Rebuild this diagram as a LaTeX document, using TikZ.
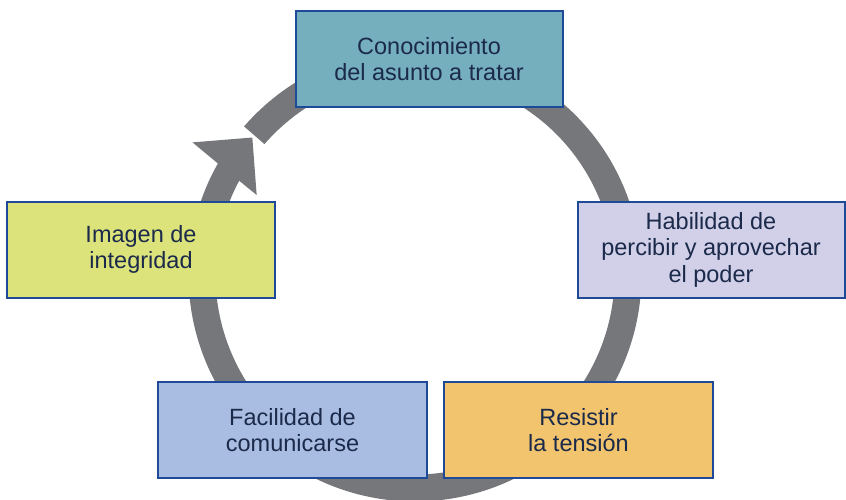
\documentclass[tikz,border=0pt]{standalone}
\usepackage{fontspec}
\setmainfont{Liberation Sans}
\definecolor{boxblue}{HTML}{1F4A98}
\definecolor{txt}{HTML}{1B2A4A}
\definecolor{ringgray}{HTML}{76777B}
\definecolor{cteal}{HTML}{75AEBC}
\definecolor{clav}{HTML}{D1D0E8}
\definecolor{cgold}{HTML}{F1C46D}
\definecolor{cblue}{HTML}{A8BDE1}
\definecolor{cyel}{HTML}{DDE37B}
\begin{document}
\begin{tikzpicture}[x=1pt,y=1pt,
  box/.style={draw=boxblue, line width=2pt, rectangle, align=center, text=txt,
    font=\fontsize{23.5}{26.5}\selectfont, inner sep=0pt,
    minimum width=267pt, minimum height=96pt},
  ring/.style={fill=ringgray}
]
\useasboundingbox (0,0) rectangle (846,499);
% circular arrow
\begin{scope}[shift={(415,224)}]
  \coordinate (rc) at (0,0);
  \fill[ring] (139:226.5) arc[start angle=139, end angle=-209.5, radius=226.5pt]
     -- (-209.5:199.5) arc[start angle=-209.5, end angle=139, radius=199.5pt] -- cycle;
  \fill[ring] (139.8:213) -- (149.2:259) -- (150.5:226.5) -- (151.8:199.5) -- (153.2:177.4) -- cycle;
\end{scope}
% boxes
\node[box, fill=cteal] (know) at (429,440) {Conocimiento\\del asunto a tratar};
\node[box, fill=clav] (power) at (711,249.5) {Habilidad de\\percibir y aprovechar\\el poder};
\node[box, fill=cyel, minimum width=268pt] (image) at (141,249.5) {Imagen de\\integridad};
\node[box, fill=cblue, minimum width=269pt] (comm) at (292.5,69) {Facilidad de\\comunicarse};
\node[box, fill=cgold, minimum width=269pt] (resist) at (578.5,69) {Resistir\\la tensión};
\end{tikzpicture}
\end{document}
